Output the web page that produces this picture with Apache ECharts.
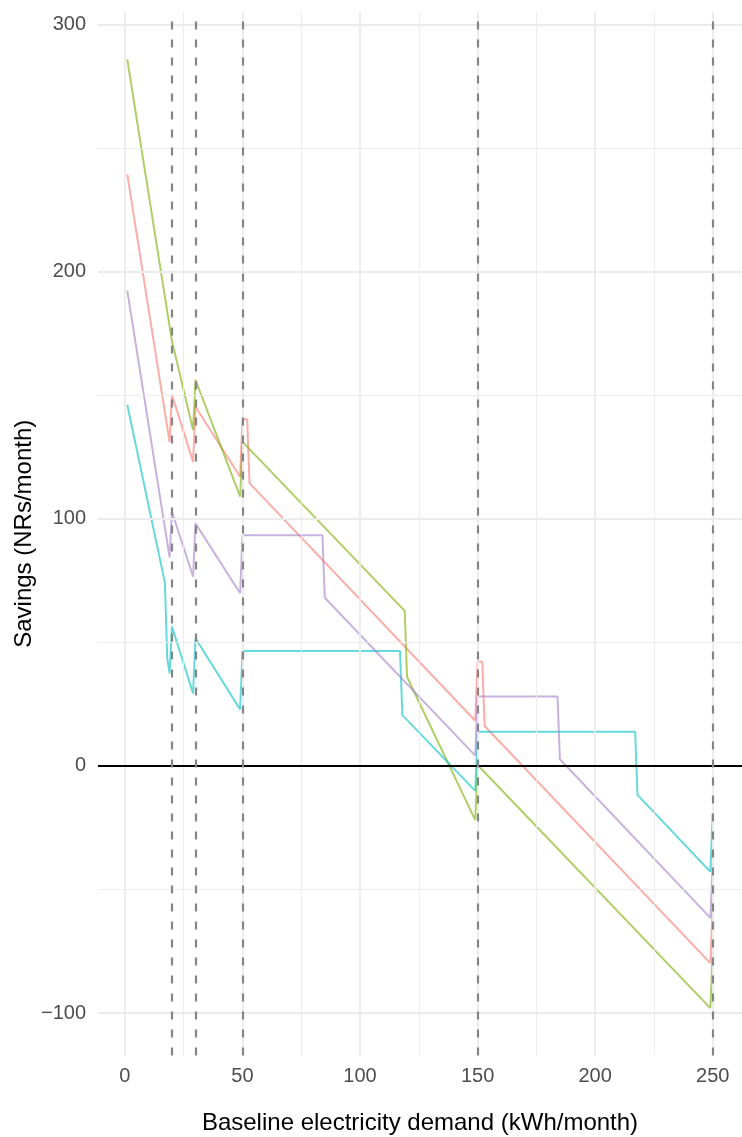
<!DOCTYPE html>
<html>
<head>
<meta charset="utf-8">
<script src="https://cdn.jsdelivr.net/npm/echarts@6/dist/echarts.min.js"></script>
<style>
html,body{margin:0;padding:0;background:#fff;}
#chart{width:742px;height:1137px;}
</style>
</head>
<body>
<div id="chart"></div>
<script>
// ---- data ----
var redX = [1, 19, 20, 29, 30, 49, 50, 52, 53, 149, 150, 152, 153, 249, 250];
var redY = [239.5, 131.2, 150.2, 123.1, 145.4, 117.1, 140.3, 140.3, 114.5, 18.3, 42.2, 42.2, 16.2, -79.8, -55.5];

var greenX = [1, 20, 29, 30, 49, 50, 119, 120, 149, 150, 249, 250];
var greenY = [286, 172, 136, 156.3, 109, 131.2, 62.8, 36, -21.9, 0.4, -98, -75];

var cyanX = [1, 17, 18, 19, 20, 29, 30, 49, 50, 117, 118, 149, 150, 217, 218, 249, 250];
var cyanY = [146.2, 74.2, 43.6, 37.5, 56.4, 29.4, 51.7, 22.9, 46.5, 46.5, 20.6, -10.1, 13.9, 13.9, -11.7, -42.8, -19.2];

var purpleX = [1, 19, 20, 29, 30, 49, 50, 84, 85, 149, 150, 184, 185, 249, 250];
var purpleY = [192.4, 84.5, 102.9, 76.6, 98.2, 69.9, 93.4, 93.4, 68.1, 4.2, 28.1, 28.1, 2.7, -61.5, -39.3];

var xTicks = [0, 50, 100, 150, 200, 250];
var xMinor = [25, 75, 125, 175, 225];
var yTicks = [-100, 0, 100, 200, 300];
var yMinor = [-50, 50, 150, 250];
var thresholds = [20, 30, 50, 150, 250];

var xLabel = 'Baseline electricity demand (kWh/month)';
var yLabel = 'Savings (NRs/month)';

function pairs(xs, ys) { return xs.map(function (x, i) { return [x, ys[i]]; }); }

var FONT = 'Liberation Sans, Arial, Helvetica, sans-serif';

function lineSeries(name, xs, ys, color) {
  return {
    name: name, type: 'line', data: pairs(xs, ys),
    showSymbol: false, symbol: 'none', z: 3, silent: true,
    lineStyle: { color: color, width: 2, opacity: 0.6 },
    animation: false
  };
}

function vlines(vals, style) {
  return vals.map(function (v) { return { xAxis: v, lineStyle: style }; });
}
function hlines(vals, style) {
  return vals.map(function (v) { return { yAxis: v, lineStyle: style }; });
}

var majorStyle = { color: '#EBEBEB', width: 1.8, type: 'solid' };
var minorStyle = { color: '#EBEBEB', width: 0.9, type: 'solid' };

var chart = echarts.init(document.getElementById('chart'), null, { renderer: 'canvas' });
chart.setOption({
  animation: false,
  backgroundColor: '#ffffff',
  grid: { left: 98, right: 0, top: 12, bottom: 81.5, containLabel: false, outerBoundsMode: 'none' },
  xAxis: {
    type: 'value', min: -11.45, max: 262.45,
    axisLine: { show: false }, axisTick: { show: false }, splitLine: { show: false },
    axisLabel: { customValues: xTicks, color: '#4D4D4D', fontSize: 20, fontFamily: FONT, margin: 11 },
    name: xLabel, nameLocation: 'middle', nameGap: 56, nameMoveOverlap: false,
    nameTextStyle: { color: '#000', fontSize: 24, fontFamily: FONT }
  },
  yAxis: {
    type: 'value', min: -117.2, max: 305.2,
    axisLine: { show: false }, axisTick: { show: false }, splitLine: { show: false },
    axisLabel: { customValues: yTicks, color: '#4D4D4D', fontSize: 20, fontFamily: FONT, margin: 12,
      formatter: function (v) { return v < 0 ? '\u2212' + Math.abs(v) : String(v); } },
    name: yLabel, nameLocation: 'middle', nameGap: 62, nameRotate: 90, nameMoveOverlap: false,
    nameTextStyle: { color: '#000', fontSize: 24, fontFamily: FONT }
  },
  series: [
    {
      type: 'line', data: [], z: 1, silent: true,
      markLine: {
        silent: true, symbol: ['none', 'none'], label: { show: false }, animation: false,
        data: vlines(xMinor, minorStyle).concat(hlines(yMinor, minorStyle))
          .concat(vlines(xTicks, majorStyle)).concat(hlines(yTicks, majorStyle))
      }
    },
    lineSeries('red', redX, redY, '#F8766D'),
    lineSeries('green', greenX, greenY, '#7CAE00'),
    lineSeries('cyan', cyanX, cyanY, '#00BFC4'),
    lineSeries('purple', purpleX, purpleY, '#A47FC6'),
    {
      type: 'line', data: [], z: 5, silent: true,
      markLine: {
        silent: true, symbol: ['none', 'none'], label: { show: false }, animation: false,
        data: hlines([0], { color: '#000000', width: 2, type: 'solid' })
          .concat(vlines(thresholds, { color: '#858585', width: 2.2, type: [8, 10] }))
      }
    }
  ]
});
</script>
</body>
</html>
